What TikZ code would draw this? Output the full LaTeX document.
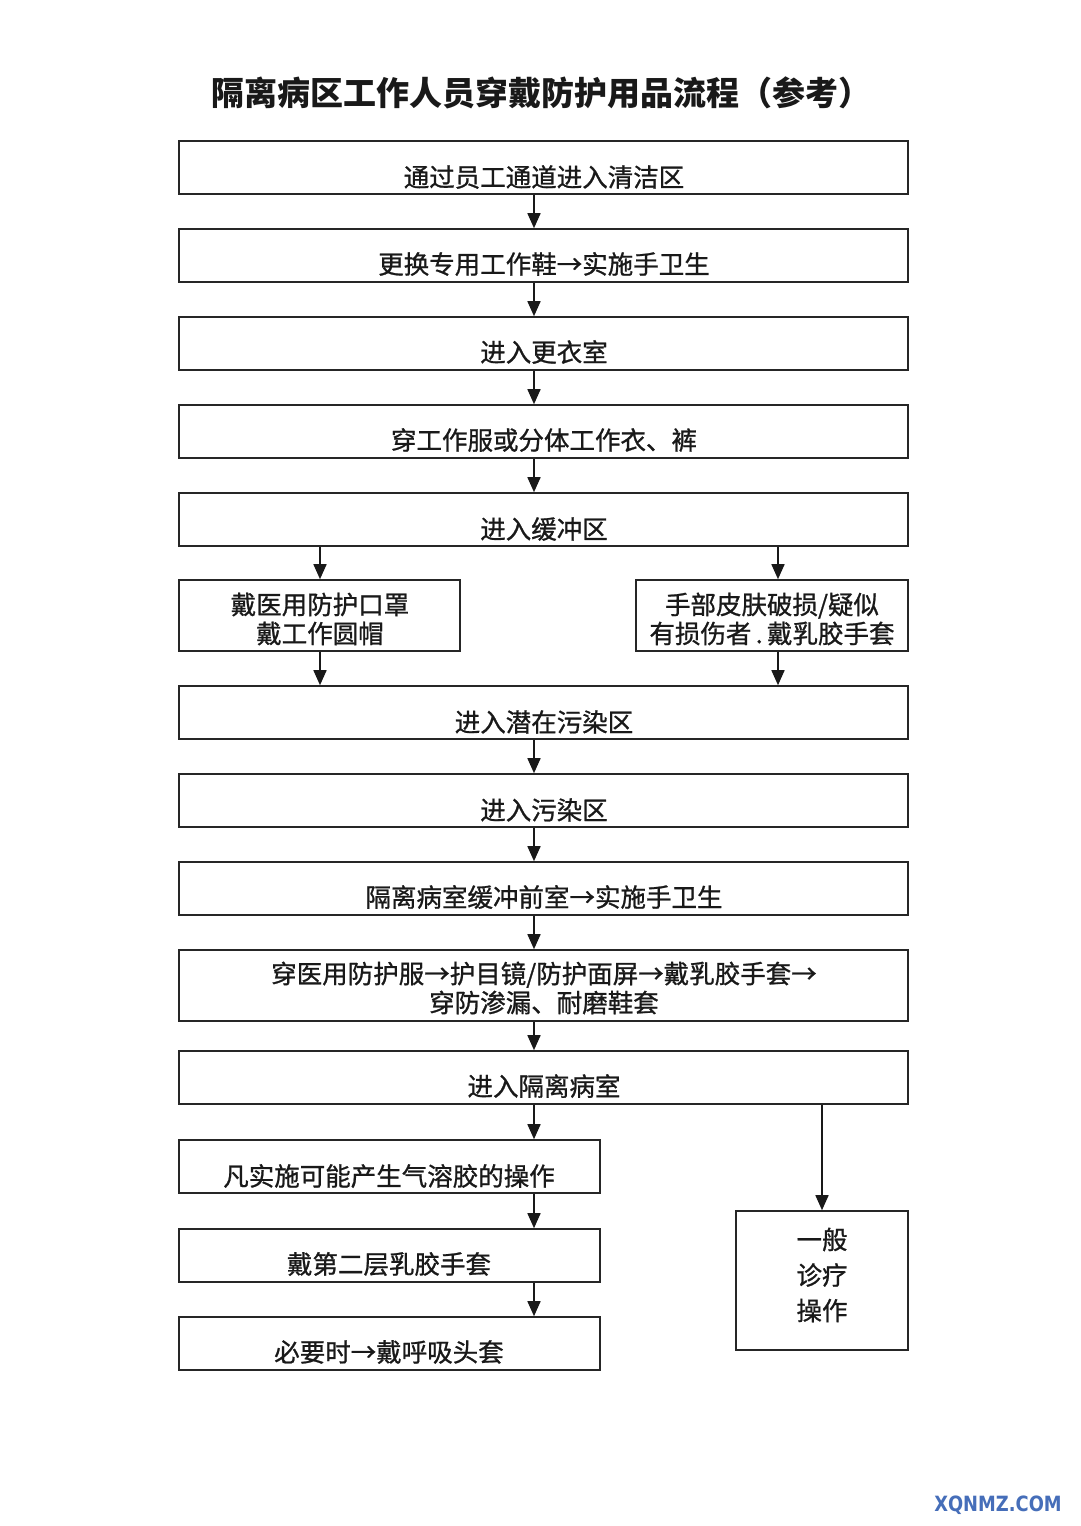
\documentclass[tikz,border=0pt]{standalone}
\usepackage{fontspec}
\setmainfont{Noto Sans CJK SC}
\newfontfamily\boxfont[FakeBold=0.9]{Noto Sans CJK SC}
\newfontfamily\wmfont{DejaVu Sans}
\usetikzlibrary{arrows.meta}
\begin{document}
\begin{tikzpicture}[x=1pt,y=-1pt,
  box/.style={draw=black!85,line width=1.6pt,fill=white,inner sep=0pt,rectangle},
  txt/.style={inner sep=0pt,font=\boxfont\fontsize{25.5}{30}\selectfont,align=center,text=black!90},
  arr/.style={line width=1.6pt,draw=black!90,-{Triangle[length=15pt,width=13pt]}}]
\useasboundingbox (0,0) rectangle (1080,1526);
\fill[white] (0,0) rectangle (1080,1526);
\node[inner sep=0pt,font=\fontsize{33}{36}\selectfont\bfseries,text=black!90] (title) at (541,93) {隔离病区工作人员穿戴防护用品流程（参考）};
% main boxes
\node[box,minimum width=729pt,minimum height=53pt] (b1) at (543.5,167.5) {};
\node[txt] (t1) at (544,177) {通过员工通道进入清洁区};
\node[box,minimum width=729pt,minimum height=53pt] (b2) at (543.5,255.5) {};
\node[txt] (t2) at (544,264) {更换专用工作鞋→实施手卫生};
\node[box,minimum width=729pt,minimum height=53pt] (b3) at (543.5,343.5) {};
\node[txt] (t3) at (544,352) {进入更衣室};
\node[box,minimum width=729pt,minimum height=53pt] (b4) at (543.5,431.5) {};
\node[txt] (t4) at (544,440) {穿工作服或分体工作衣、裤};
\node[box,minimum width=729pt,minimum height=53pt] (b5) at (543.5,519.5) {};
\node[txt] (t5) at (544,529) {进入缓冲区};
\node[box,minimum width=281pt,minimum height=71pt] (b6l) at (319.5,615.5) {};
\node[txt] (t6l) at (320,619) {戴医用防护口罩\\[-1pt]戴工作圆帽};
\node[box,minimum width=272pt,minimum height=71pt] (b6r) at (772,615.5) {};
\node[txt] (t6r) at (772,619) {手部皮肤破损/疑似\\[-1pt]有损伤者\,.\,戴乳胶手套};
\node[box,minimum width=729pt,minimum height=53pt] (b7) at (543.5,712.5) {};
\node[txt] (t7) at (544,722) {进入潜在污染区};
\node[box,minimum width=729pt,minimum height=53pt] (b8) at (543.5,800.5) {};
\node[txt] (t8) at (544,810) {进入污染区};
\node[box,minimum width=729pt,minimum height=53pt] (b9) at (543.5,888.5) {};
\node[txt] (t9) at (544,897) {隔离病室缓冲前室→实施手卫生};
\node[box,minimum width=729pt,minimum height=71pt] (b10) at (543.5,985.5) {};
\node[txt] (t10) at (544,988) {穿医用防护服→护目镜/防护面屏→戴乳胶手套→\\[-1pt]穿防渗漏、耐磨鞋套};
\node[box,minimum width=729pt,minimum height=53pt] (b11) at (543.5,1077.5) {};
\node[txt] (t11) at (544,1086) {进入隔离病室};
\node[box,minimum width=421pt,minimum height=53pt] (b12) at (389.5,1166.5) {};
\node[txt] (t12) at (389,1176) {凡实施可能产生气溶胶的操作};
\node[box,minimum width=421pt,minimum height=53pt] (b13) at (389.5,1255.5) {};
\node[txt] (t13) at (389,1264) {戴第二层乳胶手套};
\node[box,minimum width=421pt,minimum height=53pt] (b14) at (389.5,1343.5) {};
\node[txt] (t14) at (389,1352) {必要时→戴呼吸头套};
\node[box,minimum width=172pt,minimum height=139pt] (b15) at (822,1280.5) {};
\node[txt,font=\boxfont\fontsize{25.5}{35.5}\selectfont] (t15) at (822,1275) {一般\\诊疗\\操作};
% arrows
\draw[arr] (b1.south -| 534,0) -- (b2.north -| 534,0);
\draw[arr] (b2.south -| 534,0) -- (b3.north -| 534,0);
\draw[arr] (b3.south -| 534,0) -- (b4.north -| 534,0);
\draw[arr] (b4.south -| 534,0) -- (b5.north -| 534,0);
\draw[arr] (b5.south -| 320,0) -- (b6l.north -| 320,0);
\draw[arr] (b5.south -| 778,0) -- (b6r.north -| 778,0);
\draw[arr] (b6l.south -| 320,0) -- (b7.north -| 320,0);
\draw[arr] (b6r.south -| 778,0) -- (b7.north -| 778,0);
\draw[arr] (b7.south -| 534,0) -- (b8.north -| 534,0);
\draw[arr] (b8.south -| 534,0) -- (b9.north -| 534,0);
\draw[arr] (b9.south -| 534,0) -- (b10.north -| 534,0);
\draw[arr] (b10.south -| 534,0) -- (b11.north -| 534,0);
\draw[arr] (b11.south -| 534,0) -- (b12.north -| 534,0);
\draw[arr] (b12.south -| 534,0) -- (b13.north -| 534,0);
\draw[arr] (b13.south -| 534,0) -- (b14.north -| 534,0);
\draw[arr] (b11.south -| b15.north) -- (b15.north);
% watermark
\node[inner sep=0pt,font=\wmfont\bfseries\fontsize{21}{24}\selectfont,text={rgb,255:red,70;green,110;blue,185}] (wm) at (998,1505) {\scalebox{0.85}[1]{XQNMZ.COM}};
\end{tikzpicture}
\end{document}
